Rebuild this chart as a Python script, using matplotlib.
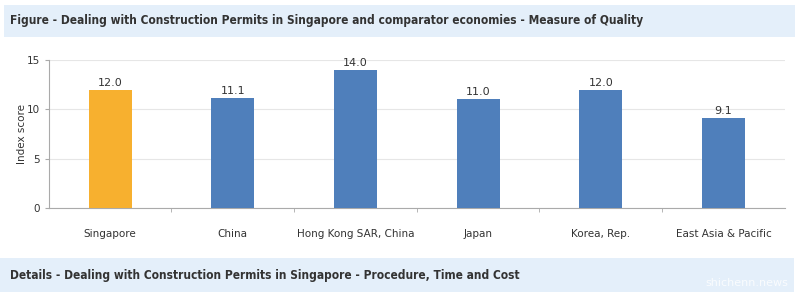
import matplotlib
matplotlib.use("Agg")
import matplotlib.pyplot as plt
from matplotlib.patches import Rectangle

# chart data
economies = ["Singapore", "China", "Hong Kong SAR, China", "Japan", "Korea, Rep.", "East Asia & Pacific"]
scores = [12.0, 11.1, 14.0, 11.0, 12.0, 9.1]
highlight = "Singapore"

title = "Figure - Dealing with Construction Permits in Singapore and comparator economies - Measure of Quality"
footer = "Details - Dealing with Construction Permits in Singapore - Procedure, Time and Cost"

orange = "#F7B02F"
blue = "#4F7FBB"
banner = "#E4EFFA"
text_col = "#333333"

fig = plt.figure(figsize=(8, 2.98), dpi=100)
fig.patch.set_facecolor("white")

# header and footer banners
fig.patches.append(Rectangle((0.005, 0.876), 0.989, 0.107, transform=fig.transFigure,
                             facecolor=banner, edgecolor="none", zorder=0))
fig.patches.append(Rectangle((0.0, 0.02), 0.992, 0.114, transform=fig.transFigure,
                             facecolor=banner, edgecolor="none", zorder=0))
fig.text(0.013, 0.93, title, fontsize=8.6, fontweight="bold", color=text_col,
         va="center", ha="left", fontstretch="condensed")
fig.text(0.013, 0.077, footer, fontsize=8.6, fontweight="bold", color=text_col,
         va="center", ha="left", fontstretch="condensed")
fig.text(0.985, 0.05, "shichenn.news", fontsize=8, color="white", alpha=0.8,
         va="center", ha="right")

ax = fig.add_axes([0.061, 0.302, 0.92, 0.497])
x = list(range(len(economies)))
colors = [orange if e == highlight else blue for e in economies]
bars = ax.bar(x, scores, width=0.35, color=colors, zorder=3)
for xi, v in zip(x, scores):
    ax.text(xi, v + 0.2, "%.1f" % v, ha="center", va="bottom", fontsize=8, color=text_col)

ax.set_xlim(-0.5, len(economies) - 0.5)
ax.set_ylim(0, 15)
ax.set_yticks([0, 5, 10, 15])
ax.set_xticks(x)
ax.set_xticklabels(economies, fontsize=7.5, color=text_col)
ax.set_xticks([i + 0.5 for i in x[:-1]], minor=True)
ax.tick_params(axis="x", which="major", length=0, pad=15)
ax.tick_params(axis="x", which="minor", length=3, color="#aaaaaa")
ax.tick_params(axis="y", labelsize=7.5, labelcolor=text_col, length=3, color="#aaaaaa")
ax.set_ylabel("Index score", fontsize=7.5, color=text_col, labelpad=0)
ax.grid(axis="y", color="#e6e6e6", linewidth=0.8, zorder=0)
for s in ["top", "right"]:
    ax.spines[s].set_visible(False)
for s in ["left", "bottom"]:
    ax.spines[s].set_color("#aaaaaa")
    ax.spines[s].set_linewidth(0.8)

fig.savefig("out.png", dpi=100)
